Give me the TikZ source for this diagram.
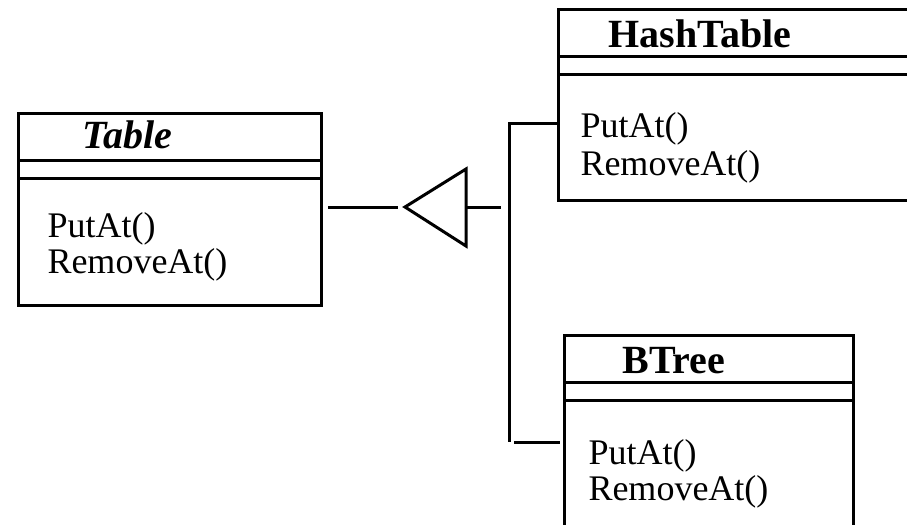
\documentclass[tikz,border=0pt]{standalone}
\usepackage{fontspec}
\setmainfont{Liberation Serif}
\usetikzlibrary{positioning}

\begin{document}
\begin{tikzpicture}[x=0.5pt, y=-0.5pt, line width=1.5pt,
    class/.style={draw, rectangle, inner sep=0pt, anchor=north west},
    cname/.style={inner sep=0pt, anchor=base west, font=\fontsize{20}{22}\selectfont\bfseries},
    op/.style={inner sep=0pt, anchor=base west, font=\fontsize{18}{18}\selectfont}]

   \useasboundingbox (0,0) rectangle (907,525);
   \clip (0,0) rectangle (907,525);

   % classes
   \node[class, minimum width=151.5pt, minimum height=96pt] (table) at (17,112) {};
   \node[class, minimum width=184pt, minimum height=95.5pt] (hash) at (557,8) {};
   \node[class, minimum width=144.5pt, minimum height=105.5pt] (btree) at (563,334) {};

   \foreach \c in {table, hash, btree} {
     \draw ([yshift=-24pt]\c.north west) -- ([yshift=-24pt]\c.north east);
     \draw ([yshift=-33pt]\c.north west) -- ([yshift=-33pt]\c.north east);
   }

   \node[cname] (tname) at ([shift={(64,36)}]table.north west) {\textit{Table}};
   \node[op] (tput) at ([shift={(29,125)}]table.north west) {PutAt()};
   \node[op] (trem) [below=18pt of tput.base west, anchor=base west] {RemoveAt()};

   \node[cname] (hname) at ([shift={(50,39)}]hash.north west) {HashTable};
   \node[op] (hput) at ([shift={(22,129)}]hash.north west) {PutAt()};
   \node[op] (hrem) [below=19pt of hput.base west, anchor=base west] {RemoveAt()};

   \node[cname] (bname) at ([shift={(58,39)}]btree.north west) {BTree};
   \node[op] (bput) at ([shift={(24,130)}]btree.north west) {PutAt()};
   \node[op] (brem) [below=18pt of bput.base west, anchor=base west] {RemoveAt()};

   % generalisation
   \coordinate (tip) at (405,207);
   \coordinate (base) at (466,207);
   \coordinate (bustop) at (509,123);
   \coordinate (busbot) at (509,442);

   \draw (tip) -- ++(61,-38) -- ++(0,77) -- cycle;
   \draw[shorten <=2.5pt, shorten >=3.5pt] (table.east |- tip) -- (tip);
   \draw[shorten >=4pt] (base) -- (bustop |- base);
   \draw (hash.west |- bustop) -- (bustop) -- (busbot);
   \draw[shorten <=2.5pt, shorten >=1.5pt] (busbot) -- (btree.west |- busbot);

\end{tikzpicture}
\end{document}
